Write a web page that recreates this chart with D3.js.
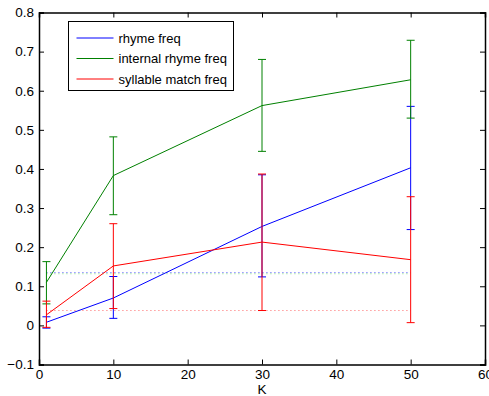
<!DOCTYPE html>
<html>
<head>
<meta charset="utf-8">
<script src="https://cdn.jsdelivr.net/npm/d3@7"></script>
<style>
  body { margin: 0; background: #fff; }
  text { font-family: "Liberation Sans", Arial, sans-serif; }
</style>
</head>
<body>
<div id="chart"></div>
<script>
const kValues = [1, 10, 30, 50]

const rhymeMean = [0.008, 0.070, 0.253, 0.403]
const rhymeLow = [-0.007, 0.018, 0.124, 0.245]
const rhymeHigh = [0.022, 0.125, 0.385, 0.560]

const internalMean = [0.110, 0.383, 0.562, 0.628]
const internalLow = [0.055, 0.283, 0.445, 0.530]
const internalHigh = [0.163, 0.482, 0.680, 0.729]

const syllableMean = [0.027, 0.152, 0.213, 0.168]
const syllableLow = [-0.005, 0.043, 0.038, 0.007]
const syllableHigh = [0.062, 0.260, 0.387, 0.329]

// chance baselines (dotted)
const baselineNames = ["rhyme", "internal", "syllable"]
const baselineValues = [0.135, 0.132, 0.038]
const baselineRange = [1, 50]

const seriesNames = ["rhyme freq", "internal rhyme freq", "syllable match freq"]
const xTicks = [0, 10, 20, 30, 40, 50, 60]
const yTicks = [-0.1, 0, 0.1, 0.2, 0.3, 0.4, 0.5, 0.6, 0.7, 0.8]

const colors = ["#0000ff", "#008000", "#ff0000"]
const dotColors = ["#4d4dff", "#80e080", "#ff6666"]

const width = 489
const height = 396
const margin = {top: 12.5, right: 4, bottom: 31.5, left: 39}

const svg = d3.select("#chart").append("svg")
    .attr("width", width)
    .attr("height", height)

const x = d3.scaleLinear().domain([0, 60]).range([margin.left, width - margin.right])
const y = d3.scaleLinear().domain([-0.1, 0.8]).range([height - margin.bottom, margin.top])

const series = [
    {mean: rhymeMean, low: rhymeLow, high: rhymeHigh},
    {mean: internalMean, low: internalLow, high: internalHigh},
    {mean: syllableMean, low: syllableLow, high: syllableHigh},
]

// axes: ticks inward on all four sides
const tickLen = 5
svg.append("g")
    .attr("transform", `translate(0,${y(-0.1)})`)
    .call(d3.axisBottom(x).tickValues(xTicks).tickSize(-tickLen).tickPadding(5).tickFormat(d3.format("d")))
svg.append("g")
    .attr("transform", `translate(0,${y(0.8)})`)
    .call(d3.axisTop(x).tickValues(xTicks).tickSize(-tickLen).tickFormat(""))
svg.append("g")
    .attr("transform", `translate(${x(0)},0)`)
    .call(d3.axisLeft(y).tickValues(yTicks).tickSize(-tickLen).tickPadding(5)
        .tickFormat(d => d === 0 ? "0" : d3.format(".1f")(d).replace("-", "\u2212")))
svg.append("g")
    .attr("transform", `translate(${x(60)},0)`)
    .call(d3.axisRight(y).tickValues(yTicks).tickSize(-tickLen).tickFormat(""))

svg.selectAll(".domain").attr("stroke", "#000").attr("stroke-width", 1.5)
svg.selectAll(".tick line").attr("stroke", "#000")
svg.selectAll(".tick text").attr("fill", "#000").style("font-size", "13.5px")

svg.append("text")
    .attr("x", (x(0) + x(60)) / 2)
    .attr("y", height - 2)
    .attr("text-anchor", "middle")
    .style("font-size", "13.5px")
    .text("K")

// dotted baselines
baselineValues.forEach((v, i) => {
    svg.append("line")
        .attr("x1", x(baselineRange[0]))
        .attr("x2", x(baselineRange[1]))
        .attr("y1", y(v))
        .attr("y2", y(v))
        .attr("stroke", dotColors[i])
        .attr("stroke-width", 1)
        .attr("stroke-dasharray", "1,3")
})

const line = d3.line().x(d => x(d[0])).y(d => y(d[1]))

series.forEach((s, i) => {
    const g = svg.append("g")
        .attr("stroke", colors[i])
        .attr("fill", "none")
        .attr("stroke-width", 1)

    g.append("path")
        .attr("d", line(kValues.map((k, j) => [k, s.mean[j]])))

    kValues.forEach((k, j) => {
        const cx = x(k)
        g.append("line")
            .attr("x1", cx).attr("x2", cx)
            .attr("y1", y(s.low[j])).attr("y2", y(s.high[j]))
        for (let v of [s.low[j], s.high[j]]) {
            g.append("line")
                .attr("x1", cx - 4).attr("x2", cx + 4)
                .attr("y1", y(v)).attr("y2", y(v))
        }
    })
})

// legend
const legend = svg.append("g").attr("transform", "translate(68.5,21.5)")
legend.append("rect")
    .attr("width", 165)
    .attr("height", 69)
    .attr("fill", "#fff")
    .attr("stroke", "#000")
seriesNames.forEach((name, i) => {
    const ly = 16.5 + i * 20.5
    legend.append("line")
        .attr("x1", 8).attr("x2", 45)
        .attr("y1", ly).attr("y2", ly)
        .attr("stroke", colors[i])
    legend.append("text")
        .attr("x", 50)
        .attr("y", ly + 4.5)
        .style("font-size", "13px")
        .text(name)
})
</script>
</body>
</html>
